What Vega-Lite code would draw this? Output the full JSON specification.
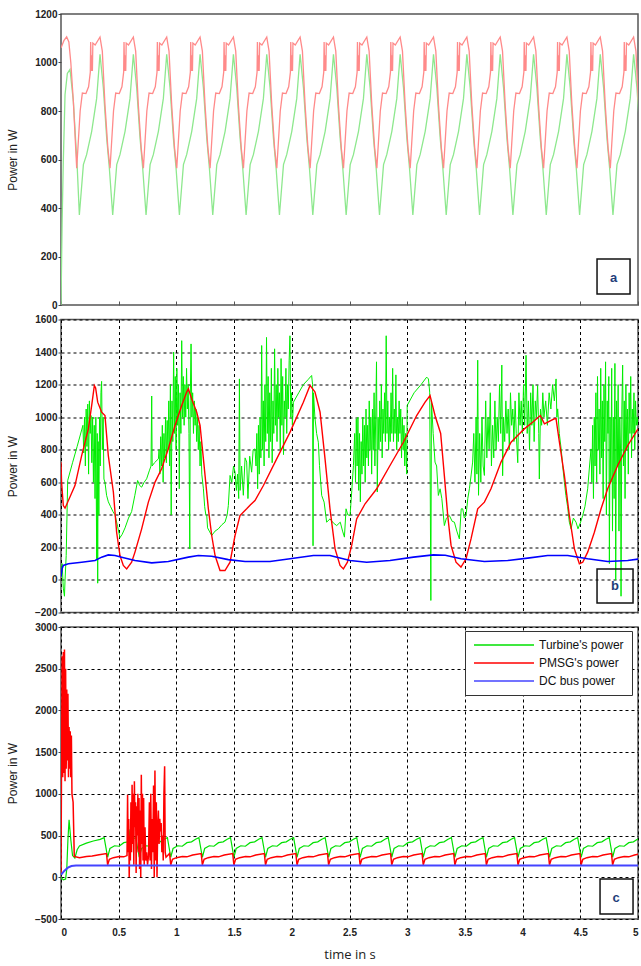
{
"$schema":"https://vega.github.io/schema/vega-lite/v6.json",
"padding":{"left":5,"top":8,"right":3,"bottom":5},
"bounds":"flush",
"spacing":14.5,
"config":{"view":{"stroke":"#555","strokeWidth":1.5},"font":"Liberation Sans",
"axis":{"domain":false,"labelOverlap":false,"labelFont":"Liberation Sans","labelFontSize":10,"labelFontWeight":"bold","labelColor":"#222","tickColor":"#444","tickSize":3,"labelPadding":1,"titleFont":"Liberation Sans","titleFontSize":12,"titleFontWeight":"normal","titleColor":"#222","gridColor":"#000","gridDash":[3,3],"gridOpacity":1,"gridWidth":1},
"axisY":{"titlePadding":15,"format":"d"}},
"resolve":{"scale":{"color":"independent"},"legend":{"color":"independent"}},
"datasets":{
"a":[
{"s":"T","t":0,"v":0},{"s":"T","t":0.01,"v":350},{"s":"T","t":0.02,"v":592},{"s":"T","t":0.035,"v":868},{"s":"T","t":0.055,"v":955},{"s":"T","t":0.078,"v":972},{"s":"T","t":0.107,"v":840},{"s":"T","t":0.141,"v":564},
{"s":"T","t":0.159,"v":371},{"s":"T","t":0.194,"v":579},{"s":"T","t":0.222,"v":620},{"s":"T","t":0.266,"v":716},{"s":"T","t":0.309,"v":852},{"s":"T","t":0.338,"v":1034},{"s":"T","t":0.367,"v":895},{"s":"T","t":0.396,"v":688},{"s":"T","t":0.419,"v":564},
{"s":"T","t":0.448,"v":371},{"s":"T","t":0.483,"v":579},{"s":"T","t":0.511,"v":620},{"s":"T","t":0.555,"v":716},{"s":"T","t":0.598,"v":852},{"s":"T","t":0.627,"v":1034},{"s":"T","t":0.656,"v":895},{"s":"T","t":0.685,"v":688},{"s":"T","t":0.708,"v":564},
{"s":"T","t":0.737,"v":371},{"s":"T","t":0.772,"v":579},{"s":"T","t":0.8,"v":620},{"s":"T","t":0.844,"v":716},{"s":"T","t":0.887,"v":852},{"s":"T","t":0.916,"v":1034},{"s":"T","t":0.945,"v":895},{"s":"T","t":0.974,"v":688},{"s":"T","t":0.997,"v":564},
{"s":"T","t":1.026,"v":371},{"s":"T","t":1.061,"v":579},{"s":"T","t":1.089,"v":620},{"s":"T","t":1.133,"v":716},{"s":"T","t":1.176,"v":852},{"s":"T","t":1.205,"v":1034},{"s":"T","t":1.234,"v":895},{"s":"T","t":1.263,"v":688},{"s":"T","t":1.286,"v":564},
{"s":"T","t":1.315,"v":371},{"s":"T","t":1.35,"v":579},{"s":"T","t":1.378,"v":620},{"s":"T","t":1.422,"v":716},{"s":"T","t":1.465,"v":852},{"s":"T","t":1.494,"v":1034},{"s":"T","t":1.523,"v":895},{"s":"T","t":1.552,"v":688},{"s":"T","t":1.575,"v":564},
{"s":"T","t":1.604,"v":371},{"s":"T","t":1.639,"v":579},{"s":"T","t":1.667,"v":620},{"s":"T","t":1.711,"v":716},{"s":"T","t":1.754,"v":852},{"s":"T","t":1.783,"v":1034},{"s":"T","t":1.812,"v":895},{"s":"T","t":1.841,"v":688},{"s":"T","t":1.864,"v":564},
{"s":"T","t":1.893,"v":371},{"s":"T","t":1.928,"v":579},{"s":"T","t":1.956,"v":620},{"s":"T","t":2.0,"v":716},{"s":"T","t":2.043,"v":852},{"s":"T","t":2.072,"v":1034},{"s":"T","t":2.101,"v":895},{"s":"T","t":2.13,"v":688},{"s":"T","t":2.153,"v":564},
{"s":"T","t":2.182,"v":371},{"s":"T","t":2.217,"v":579},{"s":"T","t":2.245,"v":620},{"s":"T","t":2.289,"v":716},{"s":"T","t":2.332,"v":852},{"s":"T","t":2.361,"v":1034},{"s":"T","t":2.39,"v":895},{"s":"T","t":2.419,"v":688},{"s":"T","t":2.442,"v":564},
{"s":"T","t":2.471,"v":371},{"s":"T","t":2.506,"v":579},{"s":"T","t":2.534,"v":620},{"s":"T","t":2.578,"v":716},{"s":"T","t":2.621,"v":852},{"s":"T","t":2.65,"v":1034},{"s":"T","t":2.679,"v":895},{"s":"T","t":2.708,"v":688},{"s":"T","t":2.731,"v":564},
{"s":"T","t":2.76,"v":371},{"s":"T","t":2.795,"v":579},{"s":"T","t":2.823,"v":620},{"s":"T","t":2.867,"v":716},{"s":"T","t":2.91,"v":852},{"s":"T","t":2.939,"v":1034},{"s":"T","t":2.968,"v":895},{"s":"T","t":2.997,"v":688},{"s":"T","t":3.02,"v":564},
{"s":"T","t":3.049,"v":371},{"s":"T","t":3.084,"v":579},{"s":"T","t":3.112,"v":620},{"s":"T","t":3.156,"v":716},{"s":"T","t":3.199,"v":852},{"s":"T","t":3.228,"v":1034},{"s":"T","t":3.257,"v":895},{"s":"T","t":3.286,"v":688},{"s":"T","t":3.309,"v":564},
{"s":"T","t":3.338,"v":371},{"s":"T","t":3.373,"v":579},{"s":"T","t":3.401,"v":620},{"s":"T","t":3.445,"v":716},{"s":"T","t":3.488,"v":852},{"s":"T","t":3.517,"v":1034},{"s":"T","t":3.546,"v":895},{"s":"T","t":3.575,"v":688},{"s":"T","t":3.598,"v":564},
{"s":"T","t":3.627,"v":371},{"s":"T","t":3.662,"v":579},{"s":"T","t":3.69,"v":620},{"s":"T","t":3.734,"v":716},{"s":"T","t":3.777,"v":852},{"s":"T","t":3.806,"v":1034},{"s":"T","t":3.835,"v":895},{"s":"T","t":3.864,"v":688},{"s":"T","t":3.887,"v":564},
{"s":"T","t":3.916,"v":371},{"s":"T","t":3.951,"v":579},{"s":"T","t":3.979,"v":620},{"s":"T","t":4.023,"v":716},{"s":"T","t":4.066,"v":852},{"s":"T","t":4.095,"v":1034},{"s":"T","t":4.124,"v":895},{"s":"T","t":4.153,"v":688},{"s":"T","t":4.176,"v":564},
{"s":"T","t":4.205,"v":371},{"s":"T","t":4.24,"v":579},{"s":"T","t":4.268,"v":620},{"s":"T","t":4.312,"v":716},{"s":"T","t":4.355,"v":852},{"s":"T","t":4.384,"v":1034},{"s":"T","t":4.413,"v":895},{"s":"T","t":4.442,"v":688},{"s":"T","t":4.465,"v":564},
{"s":"T","t":4.494,"v":371},{"s":"T","t":4.529,"v":579},{"s":"T","t":4.557,"v":620},{"s":"T","t":4.601,"v":716},{"s":"T","t":4.644,"v":852},{"s":"T","t":4.673,"v":1034},{"s":"T","t":4.702,"v":895},{"s":"T","t":4.731,"v":688},{"s":"T","t":4.754,"v":564},
{"s":"T","t":4.783,"v":371},{"s":"T","t":4.818,"v":579},{"s":"T","t":4.846,"v":620},{"s":"T","t":4.89,"v":716},{"s":"T","t":4.933,"v":852},{"s":"T","t":4.962,"v":1034},{"s":"T","t":4.991,"v":895},{"s":"T","t":5.02,"v":688},
{"s":"P","t":0,"v":1060},{"s":"P","t":0.025,"v":1090},{"s":"P","t":0.049,"v":1106},{"s":"P","t":0.068,"v":1085},{"s":"P","t":0.085,"v":1000},{"s":"P","t":0.107,"v":840},
{"s":"P","t":0.136,"v":564},{"s":"P","t":0.166,"v":800},{"s":"P","t":0.185,"v":874},{"s":"P","t":0.216,"v":872},{"s":"P","t":0.239,"v":900},{"s":"P","t":0.254,"v":960},{"s":"P","t":0.257,"v":1085},{"s":"P","t":0.262,"v":965},{"s":"P","t":0.267,"v":1030},{"s":"P","t":0.272,"v":965},{"s":"P","t":0.276,"v":1080},{"s":"P","t":0.296,"v":1072},{"s":"P","t":0.338,"v":1105},{"s":"P","t":0.358,"v":1047},{"s":"P","t":0.381,"v":826},{"s":"P","t":0.406,"v":647},
{"s":"P","t":0.425,"v":564},{"s":"P","t":0.455,"v":800},{"s":"P","t":0.474,"v":874},{"s":"P","t":0.505,"v":872},{"s":"P","t":0.528,"v":900},{"s":"P","t":0.543,"v":960},{"s":"P","t":0.546,"v":1085},{"s":"P","t":0.551,"v":965},{"s":"P","t":0.556,"v":1030},{"s":"P","t":0.561,"v":965},{"s":"P","t":0.565,"v":1080},{"s":"P","t":0.585,"v":1072},{"s":"P","t":0.627,"v":1105},{"s":"P","t":0.647,"v":1047},{"s":"P","t":0.67,"v":826},{"s":"P","t":0.695,"v":647},
{"s":"P","t":0.714,"v":564},{"s":"P","t":0.744,"v":800},{"s":"P","t":0.763,"v":874},{"s":"P","t":0.794,"v":872},{"s":"P","t":0.817,"v":900},{"s":"P","t":0.832,"v":960},{"s":"P","t":0.835,"v":1085},{"s":"P","t":0.84,"v":965},{"s":"P","t":0.845,"v":1030},{"s":"P","t":0.85,"v":965},{"s":"P","t":0.854,"v":1080},{"s":"P","t":0.874,"v":1072},{"s":"P","t":0.916,"v":1105},{"s":"P","t":0.936,"v":1047},{"s":"P","t":0.959,"v":826},{"s":"P","t":0.984,"v":647},
{"s":"P","t":1.003,"v":564},{"s":"P","t":1.033,"v":800},{"s":"P","t":1.052,"v":874},{"s":"P","t":1.083,"v":872},{"s":"P","t":1.106,"v":900},{"s":"P","t":1.121,"v":960},{"s":"P","t":1.124,"v":1085},{"s":"P","t":1.129,"v":965},{"s":"P","t":1.134,"v":1030},{"s":"P","t":1.139,"v":965},{"s":"P","t":1.143,"v":1080},{"s":"P","t":1.163,"v":1072},{"s":"P","t":1.205,"v":1105},{"s":"P","t":1.225,"v":1047},{"s":"P","t":1.248,"v":826},{"s":"P","t":1.273,"v":647},
{"s":"P","t":1.292,"v":564},{"s":"P","t":1.322,"v":800},{"s":"P","t":1.341,"v":874},{"s":"P","t":1.372,"v":872},{"s":"P","t":1.395,"v":900},{"s":"P","t":1.41,"v":960},{"s":"P","t":1.413,"v":1085},{"s":"P","t":1.418,"v":965},{"s":"P","t":1.423,"v":1030},{"s":"P","t":1.428,"v":965},{"s":"P","t":1.432,"v":1080},{"s":"P","t":1.452,"v":1072},{"s":"P","t":1.494,"v":1105},{"s":"P","t":1.514,"v":1047},{"s":"P","t":1.537,"v":826},{"s":"P","t":1.562,"v":647},
{"s":"P","t":1.581,"v":564},{"s":"P","t":1.611,"v":800},{"s":"P","t":1.63,"v":874},{"s":"P","t":1.661,"v":872},{"s":"P","t":1.684,"v":900},{"s":"P","t":1.699,"v":960},{"s":"P","t":1.702,"v":1085},{"s":"P","t":1.707,"v":965},{"s":"P","t":1.712,"v":1030},{"s":"P","t":1.717,"v":965},{"s":"P","t":1.721,"v":1080},{"s":"P","t":1.741,"v":1072},{"s":"P","t":1.783,"v":1105},{"s":"P","t":1.803,"v":1047},{"s":"P","t":1.826,"v":826},{"s":"P","t":1.851,"v":647},
{"s":"P","t":1.87,"v":564},{"s":"P","t":1.9,"v":800},{"s":"P","t":1.919,"v":874},{"s":"P","t":1.95,"v":872},{"s":"P","t":1.973,"v":900},{"s":"P","t":1.988,"v":960},{"s":"P","t":1.991,"v":1085},{"s":"P","t":1.996,"v":965},{"s":"P","t":2.001,"v":1030},{"s":"P","t":2.006,"v":965},{"s":"P","t":2.01,"v":1080},{"s":"P","t":2.03,"v":1072},{"s":"P","t":2.072,"v":1105},{"s":"P","t":2.092,"v":1047},{"s":"P","t":2.115,"v":826},{"s":"P","t":2.14,"v":647},
{"s":"P","t":2.159,"v":564},{"s":"P","t":2.189,"v":800},{"s":"P","t":2.208,"v":874},{"s":"P","t":2.239,"v":872},{"s":"P","t":2.262,"v":900},{"s":"P","t":2.277,"v":960},{"s":"P","t":2.28,"v":1085},{"s":"P","t":2.285,"v":965},{"s":"P","t":2.29,"v":1030},{"s":"P","t":2.295,"v":965},{"s":"P","t":2.299,"v":1080},{"s":"P","t":2.319,"v":1072},{"s":"P","t":2.361,"v":1105},{"s":"P","t":2.381,"v":1047},{"s":"P","t":2.404,"v":826},{"s":"P","t":2.429,"v":647},
{"s":"P","t":2.448,"v":564},{"s":"P","t":2.478,"v":800},{"s":"P","t":2.497,"v":874},{"s":"P","t":2.528,"v":872},{"s":"P","t":2.551,"v":900},{"s":"P","t":2.566,"v":960},{"s":"P","t":2.569,"v":1085},{"s":"P","t":2.574,"v":965},{"s":"P","t":2.579,"v":1030},{"s":"P","t":2.584,"v":965},{"s":"P","t":2.588,"v":1080},{"s":"P","t":2.608,"v":1072},{"s":"P","t":2.65,"v":1105},{"s":"P","t":2.67,"v":1047},{"s":"P","t":2.693,"v":826},{"s":"P","t":2.718,"v":647},
{"s":"P","t":2.737,"v":564},{"s":"P","t":2.767,"v":800},{"s":"P","t":2.786,"v":874},{"s":"P","t":2.817,"v":872},{"s":"P","t":2.84,"v":900},{"s":"P","t":2.855,"v":960},{"s":"P","t":2.858,"v":1085},{"s":"P","t":2.863,"v":965},{"s":"P","t":2.868,"v":1030},{"s":"P","t":2.873,"v":965},{"s":"P","t":2.877,"v":1080},{"s":"P","t":2.897,"v":1072},{"s":"P","t":2.939,"v":1105},{"s":"P","t":2.959,"v":1047},{"s":"P","t":2.982,"v":826},{"s":"P","t":3.007,"v":647},
{"s":"P","t":3.026,"v":564},{"s":"P","t":3.056,"v":800},{"s":"P","t":3.075,"v":874},{"s":"P","t":3.106,"v":872},{"s":"P","t":3.129,"v":900},{"s":"P","t":3.144,"v":960},{"s":"P","t":3.147,"v":1085},{"s":"P","t":3.152,"v":965},{"s":"P","t":3.157,"v":1030},{"s":"P","t":3.162,"v":965},{"s":"P","t":3.166,"v":1080},{"s":"P","t":3.186,"v":1072},{"s":"P","t":3.228,"v":1105},{"s":"P","t":3.248,"v":1047},{"s":"P","t":3.271,"v":826},{"s":"P","t":3.296,"v":647},
{"s":"P","t":3.315,"v":564},{"s":"P","t":3.345,"v":800},{"s":"P","t":3.364,"v":874},{"s":"P","t":3.395,"v":872},{"s":"P","t":3.418,"v":900},{"s":"P","t":3.433,"v":960},{"s":"P","t":3.436,"v":1085},{"s":"P","t":3.441,"v":965},{"s":"P","t":3.446,"v":1030},{"s":"P","t":3.451,"v":965},{"s":"P","t":3.455,"v":1080},{"s":"P","t":3.475,"v":1072},{"s":"P","t":3.517,"v":1105},{"s":"P","t":3.537,"v":1047},{"s":"P","t":3.56,"v":826},{"s":"P","t":3.585,"v":647},
{"s":"P","t":3.604,"v":564},{"s":"P","t":3.634,"v":800},{"s":"P","t":3.653,"v":874},{"s":"P","t":3.684,"v":872},{"s":"P","t":3.707,"v":900},{"s":"P","t":3.722,"v":960},{"s":"P","t":3.725,"v":1085},{"s":"P","t":3.73,"v":965},{"s":"P","t":3.735,"v":1030},{"s":"P","t":3.74,"v":965},{"s":"P","t":3.744,"v":1080},{"s":"P","t":3.764,"v":1072},{"s":"P","t":3.806,"v":1105},{"s":"P","t":3.826,"v":1047},{"s":"P","t":3.849,"v":826},{"s":"P","t":3.874,"v":647},
{"s":"P","t":3.893,"v":564},{"s":"P","t":3.923,"v":800},{"s":"P","t":3.942,"v":874},{"s":"P","t":3.973,"v":872},{"s":"P","t":3.996,"v":900},{"s":"P","t":4.011,"v":960},{"s":"P","t":4.014,"v":1085},{"s":"P","t":4.019,"v":965},{"s":"P","t":4.024,"v":1030},{"s":"P","t":4.029,"v":965},{"s":"P","t":4.033,"v":1080},{"s":"P","t":4.053,"v":1072},{"s":"P","t":4.095,"v":1105},{"s":"P","t":4.115,"v":1047},{"s":"P","t":4.138,"v":826},{"s":"P","t":4.163,"v":647},
{"s":"P","t":4.182,"v":564},{"s":"P","t":4.212,"v":800},{"s":"P","t":4.231,"v":874},{"s":"P","t":4.262,"v":872},{"s":"P","t":4.285,"v":900},{"s":"P","t":4.3,"v":960},{"s":"P","t":4.303,"v":1085},{"s":"P","t":4.308,"v":965},{"s":"P","t":4.313,"v":1030},{"s":"P","t":4.318,"v":965},{"s":"P","t":4.322,"v":1080},{"s":"P","t":4.342,"v":1072},{"s":"P","t":4.384,"v":1105},{"s":"P","t":4.404,"v":1047},{"s":"P","t":4.427,"v":826},{"s":"P","t":4.452,"v":647},
{"s":"P","t":4.471,"v":564},{"s":"P","t":4.501,"v":800},{"s":"P","t":4.52,"v":874},{"s":"P","t":4.551,"v":872},{"s":"P","t":4.574,"v":900},{"s":"P","t":4.589,"v":960},{"s":"P","t":4.592,"v":1085},{"s":"P","t":4.597,"v":965},{"s":"P","t":4.602,"v":1030},{"s":"P","t":4.607,"v":965},{"s":"P","t":4.611,"v":1080},{"s":"P","t":4.631,"v":1072},{"s":"P","t":4.673,"v":1105},{"s":"P","t":4.693,"v":1047},{"s":"P","t":4.716,"v":826},{"s":"P","t":4.741,"v":647},
{"s":"P","t":4.76,"v":564},{"s":"P","t":4.79,"v":800},{"s":"P","t":4.809,"v":874},{"s":"P","t":4.84,"v":872},{"s":"P","t":4.863,"v":900},{"s":"P","t":4.878,"v":960},{"s":"P","t":4.881,"v":1085},{"s":"P","t":4.886,"v":965},{"s":"P","t":4.891,"v":1030},{"s":"P","t":4.896,"v":965},{"s":"P","t":4.9,"v":1080},{"s":"P","t":4.92,"v":1072},{"s":"P","t":4.962,"v":1105},{"s":"P","t":4.982,"v":1047},{"s":"P","t":5.005,"v":826},{"s":"P","t":5.03,"v":647}
],
"b":[
{"s":"T","t":0,"v":50},{"s":"T","t":0.01,"v":100},{"s":"T","t":0.02,"v":-50},{"s":"T","t":0.03,"v":-100},{"s":"T","t":0.035,"v":0},{"s":"T","t":0.045,"v":150},{"s":"T","t":0.058,"v":611},{"s":"T","t":0.1,"v":720},{"s":"T","t":0.14,"v":820},{"s":"T","t":0.19,"v":950},
{"s":"T","t":0.197,"v":780},{"s":"T","t":0.204,"v":1000},{"s":"T","t":0.211,"v":700},{"s":"T","t":0.218,"v":1050},{"s":"T","t":0.225,"v":820},{"s":"T","t":0.232,"v":1080},{"s":"T","t":0.239,"v":650},{"s":"T","t":0.246,"v":1100},{"s":"T","t":0.253,"v":900},{"s":"T","t":0.26,"v":1010},{"s":"T","t":0.267,"v":720},{"s":"T","t":0.274,"v":1000},{"s":"T","t":0.281,"v":600},{"s":"T","t":0.288,"v":950},{"s":"T","t":0.295,"v":500},{"s":"T","t":0.302,"v":1000},{"s":"T","t":0.309,"v":130},{"s":"T","t":0.314,"v":900},{"s":"T","t":0.318,"v":-20},{"s":"T","t":0.322,"v":850},{"s":"T","t":0.328,"v":400},{"s":"T","t":0.334,"v":1000},{"s":"T","t":0.34,"v":700},{"s":"T","t":0.346,"v":1150},{"s":"T","t":0.352,"v":1220},{"s":"T","t":0.358,"v":800},{"s":"T","t":0.365,"v":1000},{"s":"T","t":0.372,"v":620},
{"s":"T","t":0.381,"v":600},{"s":"T","t":0.395,"v":520},{"s":"T","t":0.41,"v":480},{"s":"T","t":0.43,"v":450},{"s":"T","t":0.45,"v":420},{"s":"T","t":0.468,"v":400},{"s":"T","t":0.49,"v":330},{"s":"T","t":0.511,"v":260},{"s":"T","t":0.53,"v":280},{"s":"T","t":0.555,"v":320},{"s":"T","t":0.585,"v":380},{"s":"T","t":0.612,"v":420},{"s":"T","t":0.64,"v":520},{"s":"T","t":0.664,"v":611},{"s":"T","t":0.682,"v":580},{"s":"T","t":0.699,"v":570},{"s":"T","t":0.72,"v":600},{"s":"T","t":0.742,"v":621},{"s":"T","t":0.765,"v":670},{"s":"T","t":0.78,"v":700},{"s":"T","t":0.786,"v":1130},{"s":"T","t":0.79,"v":700},{"s":"T","t":0.81,"v":720},{"s":"T","t":0.844,"v":744},
{"s":"T","t":0.85,"v":800},{"s":"T","t":0.857,"v":650},{"s":"T","t":0.864,"v":880},{"s":"T","t":0.871,"v":700},{"s":"T","t":0.878,"v":950},{"s":"T","t":0.885,"v":600},{"s":"T","t":0.892,"v":900},{"s":"T","t":0.899,"v":750},{"s":"T","t":0.906,"v":1000},{"s":"T","t":0.913,"v":720},{"s":"T","t":0.92,"v":980},{"s":"T","t":0.927,"v":800},{"s":"T","t":0.934,"v":1100},{"s":"T","t":0.941,"v":700},{"s":"T","t":0.948,"v":1200},{"s":"T","t":0.955,"v":400},{"s":"T","t":0.962,"v":1100},{"s":"T","t":0.969,"v":850},{"s":"T","t":0.976,"v":1400},{"s":"T","t":0.983,"v":900},{"s":"T","t":0.99,"v":1250},{"s":"T","t":0.997,"v":800},{"s":"T","t":1.004,"v":1300},{"s":"T","t":1.011,"v":950},{"s":"T","t":1.018,"v":1200},{"s":"T","t":1.025,"v":560},{"s":"T","t":1.032,"v":1150},{"s":"T","t":1.039,"v":900},{"s":"T","t":1.046,"v":1470},{"s":"T","t":1.053,"v":1000},{"s":"T","t":1.06,"v":1250},{"s":"T","t":1.067,"v":950},{"s":"T","t":1.074,"v":1200},{"s":"T","t":1.081,"v":1000},{"s":"T","t":1.088,"v":1300},{"s":"T","t":1.095,"v":1050},{"s":"T","t":1.102,"v":1200},{"s":"T","t":1.109,"v":900},{"s":"T","t":1.116,"v":190},{"s":"T","t":1.12,"v":1100},{"s":"T","t":1.127,"v":1450},{"s":"T","t":1.134,"v":1000},{"s":"T","t":1.141,"v":1150},{"s":"T","t":1.148,"v":900},{"s":"T","t":1.155,"v":1100},{"s":"T","t":1.162,"v":950},{"s":"T","t":1.169,"v":1050},{"s":"T","t":1.176,"v":850},{"s":"T","t":1.183,"v":1000},{"s":"T","t":1.19,"v":800},{"s":"T","t":1.197,"v":950},{"s":"T","t":1.205,"v":700},{"s":"T","t":1.212,"v":850},
{"s":"T","t":1.22,"v":650},{"s":"T","t":1.234,"v":560},{"s":"T","t":1.245,"v":450},{"s":"T","t":1.255,"v":400},{"s":"T","t":1.263,"v":396},{"s":"T","t":1.27,"v":320},{"s":"T","t":1.285,"v":300},{"s":"T","t":1.306,"v":273},{"s":"T","t":1.335,"v":300},{"s":"T","t":1.364,"v":314},{"s":"T","t":1.395,"v":340},{"s":"T","t":1.421,"v":355},{"s":"T","t":1.44,"v":400},{"s":"T","t":1.45,"v":457},{"s":"T","t":1.465,"v":642},{"s":"T","t":1.48,"v":600},{"s":"T","t":1.495,"v":700},{"s":"T","t":1.508,"v":662},{"s":"T","t":1.52,"v":550},{"s":"T","t":1.53,"v":650},{"s":"T","t":1.54,"v":500},{"s":"T","t":1.546,"v":1235},{"s":"T","t":1.552,"v":550},{"s":"T","t":1.565,"v":700},{"s":"T","t":1.58,"v":520},{"s":"T","t":1.595,"v":750},{"s":"T","t":1.609,"v":724},{"s":"T","t":1.62,"v":500},{"s":"T","t":1.635,"v":760},{"s":"T","t":1.652,"v":662},{"s":"T","t":1.665,"v":800},{"s":"T","t":1.681,"v":805},
{"s":"T","t":1.69,"v":700},{"s":"T","t":1.697,"v":900},{"s":"T","t":1.704,"v":560},{"s":"T","t":1.711,"v":950},{"s":"T","t":1.718,"v":650},{"s":"T","t":1.725,"v":1000},{"s":"T","t":1.732,"v":750},{"s":"T","t":1.739,"v":1440},{"s":"T","t":1.746,"v":800},{"s":"T","t":1.753,"v":1100},{"s":"T","t":1.76,"v":700},{"s":"T","t":1.767,"v":1200},{"s":"T","t":1.774,"v":850},{"s":"T","t":1.781,"v":1490},{"s":"T","t":1.788,"v":900},{"s":"T","t":1.795,"v":1250},{"s":"T","t":1.802,"v":750},{"s":"T","t":1.809,"v":1150},{"s":"T","t":1.816,"v":850},{"s":"T","t":1.823,"v":1300},{"s":"T","t":1.83,"v":720},{"s":"T","t":1.837,"v":1100},{"s":"T","t":1.844,"v":900},{"s":"T","t":1.851,"v":1420},{"s":"T","t":1.858,"v":950},{"s":"T","t":1.865,"v":1200},{"s":"T","t":1.872,"v":850},{"s":"T","t":1.879,"v":1300},{"s":"T","t":1.886,"v":1000},{"s":"T","t":1.893,"v":1150},{"s":"T","t":1.9,"v":800},{"s":"T","t":1.907,"v":1360},{"s":"T","t":1.914,"v":950},{"s":"T","t":1.921,"v":1250},{"s":"T","t":1.928,"v":770},{"s":"T","t":1.935,"v":1100},{"s":"T","t":1.942,"v":1000},{"s":"T","t":1.949,"v":1300},{"s":"T","t":1.956,"v":900},{"s":"T","t":1.963,"v":1200},{"s":"T","t":1.97,"v":1050},{"s":"T","t":1.977,"v":1350},{"s":"T","t":1.984,"v":1500},{"s":"T","t":1.991,"v":1000},{"s":"T","t":1.998,"v":1150},{"s":"T","t":2.005,"v":950},{"s":"T","t":2.014,"v":1092},
{"s":"T","t":2.06,"v":1150},{"s":"T","t":2.1,"v":1200},{"s":"T","t":2.14,"v":1230},{"s":"T","t":2.172,"v":1256},{"s":"T","t":2.18,"v":1200},{"s":"T","t":2.184,"v":210},{"s":"T","t":2.188,"v":1150},{"s":"T","t":2.2,"v":1000},{"s":"T","t":2.215,"v":900},{"s":"T","t":2.23,"v":846},{"s":"T","t":2.24,"v":703},{"s":"T","t":2.259,"v":519},{"s":"T","t":2.28,"v":478},{"s":"T","t":2.302,"v":355},{"s":"T","t":2.331,"v":375},{"s":"T","t":2.36,"v":350},{"s":"T","t":2.389,"v":334},{"s":"T","t":2.42,"v":355},{"s":"T","t":2.44,"v":300},{"s":"T","t":2.456,"v":263},{"s":"T","t":2.47,"v":437},{"s":"T","t":2.485,"v":400},{"s":"T","t":2.505,"v":396},{"s":"T","t":2.52,"v":550},{"s":"T","t":2.534,"v":703},
{"s":"T","t":2.545,"v":900},{"s":"T","t":2.552,"v":600},{"s":"T","t":2.559,"v":990},{"s":"T","t":2.566,"v":700},{"s":"T","t":2.573,"v":1000},{"s":"T","t":2.58,"v":550},{"s":"T","t":2.587,"v":900},{"s":"T","t":2.594,"v":480},{"s":"T","t":2.601,"v":850},{"s":"T","t":2.608,"v":650},{"s":"T","t":2.615,"v":1000},{"s":"T","t":2.622,"v":700},{"s":"T","t":2.629,"v":950},{"s":"T","t":2.636,"v":600},{"s":"T","t":2.643,"v":1050},{"s":"T","t":2.65,"v":750},{"s":"T","t":2.657,"v":950},{"s":"T","t":2.664,"v":700},{"s":"T","t":2.671,"v":1100},{"s":"T","t":2.678,"v":800},{"s":"T","t":2.685,"v":1000},{"s":"T","t":2.692,"v":650},{"s":"T","t":2.699,"v":1050},{"s":"T","t":2.706,"v":800},{"s":"T","t":2.713,"v":1150},{"s":"T","t":2.72,"v":700},{"s":"T","t":2.727,"v":1000},{"s":"T","t":2.734,"v":1340},{"s":"T","t":2.741,"v":540},{"s":"T","t":2.748,"v":1000},{"s":"T","t":2.755,"v":800},{"s":"T","t":2.762,"v":1100},{"s":"T","t":2.769,"v":850},{"s":"T","t":2.776,"v":1200},{"s":"T","t":2.783,"v":750},{"s":"T","t":2.79,"v":1050},{"s":"T","t":2.797,"v":900},{"s":"T","t":2.804,"v":1150},{"s":"T","t":2.811,"v":850},{"s":"T","t":2.818,"v":1500},{"s":"T","t":2.825,"v":900},{"s":"T","t":2.832,"v":1100},{"s":"T","t":2.839,"v":800},{"s":"T","t":2.846,"v":1000},{"s":"T","t":2.853,"v":850},{"s":"T","t":2.86,"v":1150},{"s":"T","t":2.867,"v":900},{"s":"T","t":2.874,"v":1300},{"s":"T","t":2.881,"v":850},{"s":"T","t":2.888,"v":1050},{"s":"T","t":2.895,"v":900},{"s":"T","t":2.902,"v":1260},{"s":"T","t":2.909,"v":800},{"s":"T","t":2.916,"v":1000},{"s":"T","t":2.923,"v":850},{"s":"T","t":2.93,"v":1100},{"s":"T","t":2.937,"v":900},{"s":"T","t":2.944,"v":1050},{"s":"T","t":2.951,"v":750},{"s":"T","t":2.958,"v":1000},{"s":"T","t":2.965,"v":800},{"s":"T","t":2.972,"v":950},{"s":"T","t":2.979,"v":700},{"s":"T","t":2.986,"v":900},{"s":"T","t":2.996,"v":650},
{"s":"T","t":3.0,"v":1072},{"s":"T","t":3.06,"v":1150},{"s":"T","t":3.12,"v":1200},{"s":"T","t":3.169,"v":1246},{"s":"T","t":3.184,"v":1235},{"s":"T","t":3.195,"v":1154},{"s":"T","t":3.205,"v":-126},{"s":"T","t":3.21,"v":1100},{"s":"T","t":3.225,"v":900},{"s":"T","t":3.241,"v":724},{"s":"T","t":3.255,"v":700},{"s":"T","t":3.27,"v":519},{"s":"T","t":3.285,"v":560},{"s":"T","t":3.3,"v":500},{"s":"T","t":3.322,"v":334},{"s":"T","t":3.34,"v":380},{"s":"T","t":3.365,"v":396},{"s":"T","t":3.39,"v":360},{"s":"T","t":3.409,"v":355},{"s":"T","t":3.43,"v":300},{"s":"T","t":3.452,"v":252},{"s":"T","t":3.468,"v":437},{"s":"T","t":3.481,"v":437},{"s":"T","t":3.495,"v":380},{"s":"T","t":3.51,"v":396},{"s":"T","t":3.525,"v":500},{"s":"T","t":3.539,"v":560},{"s":"T","t":3.555,"v":650},{"s":"T","t":3.567,"v":724},
{"s":"T","t":3.577,"v":900},{"s":"T","t":3.587,"v":600},{"s":"T","t":3.597,"v":1000},{"s":"T","t":3.604,"v":650},{"s":"T","t":3.611,"v":1350},{"s":"T","t":3.618,"v":520},{"s":"T","t":3.628,"v":900},{"s":"T","t":3.638,"v":600},{"s":"T","t":3.648,"v":1000},{"s":"T","t":3.658,"v":700},{"s":"T","t":3.669,"v":642},{"s":"T","t":3.68,"v":1100},{"s":"T","t":3.69,"v":750},{"s":"T","t":3.7,"v":1000},{"s":"T","t":3.71,"v":805},{"s":"T","t":3.72,"v":1150},{"s":"T","t":3.73,"v":700},{"s":"T","t":3.74,"v":950},{"s":"T","t":3.75,"v":750},{"s":"T","t":3.76,"v":1100},{"s":"T","t":3.77,"v":800},{"s":"T","t":3.78,"v":1000},{"s":"T","t":3.79,"v":850},{"s":"T","t":3.8,"v":1200},{"s":"T","t":3.81,"v":900},{"s":"T","t":3.82,"v":1320},{"s":"T","t":3.827,"v":640},{"s":"T","t":3.835,"v":1000},{"s":"T","t":3.845,"v":850},{"s":"T","t":3.855,"v":1100},{"s":"T","t":3.865,"v":900},{"s":"T","t":3.875,"v":1050},{"s":"T","t":3.885,"v":800},{"s":"T","t":3.895,"v":1150},{"s":"T","t":3.905,"v":950},{"s":"T","t":3.915,"v":1050},{"s":"T","t":3.925,"v":850},{"s":"T","t":3.935,"v":1100},{"s":"T","t":3.945,"v":900},{"s":"T","t":3.958,"v":720},{"s":"T","t":3.968,"v":1150},{"s":"T","t":3.978,"v":950},{"s":"T","t":3.988,"v":1100},{"s":"T","t":3.998,"v":900},{"s":"T","t":4.008,"v":1200},{"s":"T","t":4.018,"v":950},{"s":"T","t":4.03,"v":1380},{"s":"T","t":4.04,"v":900},{"s":"T","t":4.05,"v":1100},{"s":"T","t":4.06,"v":800},{"s":"T","t":4.07,"v":1150},{"s":"T","t":4.08,"v":950},{"s":"T","t":4.09,"v":1200},{"s":"T","t":4.1,"v":850},{"s":"T","t":4.11,"v":1100},{"s":"T","t":4.12,"v":1000},{"s":"T","t":4.13,"v":1195},{"s":"T","t":4.14,"v":900},{"s":"T","t":4.145,"v":620},{"s":"T","t":4.155,"v":1050},{"s":"T","t":4.165,"v":950},{"s":"T","t":4.175,"v":1150},{"s":"T","t":4.185,"v":1000},{"s":"T","t":4.2,"v":1100},{"s":"T","t":4.215,"v":950},{"s":"T","t":4.23,"v":1150},{"s":"T","t":4.245,"v":1050},{"s":"T","t":4.26,"v":1200},{"s":"T","t":4.275,"v":1100},{"s":"T","t":4.29,"v":1235},{"s":"T","t":4.297,"v":1000},
{"s":"T","t":4.304,"v":1051},{"s":"T","t":4.318,"v":900},{"s":"T","t":4.335,"v":800},{"s":"T","t":4.347,"v":703},{"s":"T","t":4.362,"v":600},{"s":"T","t":4.375,"v":519},{"s":"T","t":4.39,"v":450},{"s":"T","t":4.405,"v":355},{"s":"T","t":4.42,"v":314},{"s":"T","t":4.44,"v":380},{"s":"T","t":4.463,"v":355},{"s":"T","t":4.48,"v":314},{"s":"T","t":4.5,"v":350},{"s":"T","t":4.521,"v":396},{"s":"T","t":4.54,"v":450},{"s":"T","t":4.564,"v":560},{"s":"T","t":4.58,"v":700},{"s":"T","t":4.593,"v":805},
{"s":"T","t":4.6,"v":600},{"s":"T","t":4.607,"v":950},{"s":"T","t":4.614,"v":500},{"s":"T","t":4.621,"v":1000},{"s":"T","t":4.628,"v":700},{"s":"T","t":4.635,"v":1150},{"s":"T","t":4.642,"v":600},{"s":"T","t":4.649,"v":1250},{"s":"T","t":4.656,"v":800},{"s":"T","t":4.663,"v":1050},{"s":"T","t":4.67,"v":650},{"s":"T","t":4.677,"v":1300},{"s":"T","t":4.684,"v":750},{"s":"T","t":4.691,"v":1100},{"s":"T","t":4.698,"v":500},{"s":"T","t":4.705,"v":1200},{"s":"T","t":4.712,"v":850},{"s":"T","t":4.719,"v":1340},{"s":"T","t":4.726,"v":400},{"s":"T","t":4.733,"v":1100},{"s":"T","t":4.74,"v":900},{"s":"T","t":4.747,"v":1250},{"s":"T","t":4.752,"v":100},{"s":"T","t":4.758,"v":1000},{"s":"T","t":4.765,"v":600},{"s":"T","t":4.772,"v":1300},{"s":"T","t":4.779,"v":300},{"s":"T","t":4.786,"v":1000},{"s":"T","t":4.793,"v":500},{"s":"T","t":4.8,"v":1330},{"s":"T","t":4.807,"v":0},{"s":"T","t":4.814,"v":1100},{"s":"T","t":4.821,"v":700},{"s":"T","t":4.828,"v":1200},{"s":"T","t":4.835,"v":300},{"s":"T","t":4.842,"v":1000},{"s":"T","t":4.849,"v":800},{"s":"T","t":4.853,"v":-100},{"s":"T","t":4.86,"v":1050},{"s":"T","t":4.867,"v":1320},{"s":"T","t":4.874,"v":700},{"s":"T","t":4.881,"v":1100},{"s":"T","t":4.888,"v":500},{"s":"T","t":4.895,"v":1200},{"s":"T","t":4.902,"v":800},{"s":"T","t":4.909,"v":1050},{"s":"T","t":4.916,"v":650},{"s":"T","t":4.923,"v":1150},{"s":"T","t":4.93,"v":900},{"s":"T","t":4.937,"v":1250},{"s":"T","t":4.944,"v":750},{"s":"T","t":4.951,"v":1050},{"s":"T","t":4.958,"v":900},{"s":"T","t":4.965,"v":1150},{"s":"T","t":4.972,"v":800},{"s":"T","t":4.979,"v":1100},{"s":"T","t":4.986,"v":950},{"s":"T","t":4.993,"v":1000},{"s":"T","t":5.0,"v":950},
{"s":"P","t":0,"v":723},{"s":"P","t":0.005,"v":600},{"s":"P","t":0.02,"v":457},{"s":"P","t":0.035,"v":441},{"s":"P","t":0.121,"v":580},{"s":"P","t":0.179,"v":764},{"s":"P","t":0.237,"v":928},{"s":"P","t":0.266,"v":1072},{"s":"P","t":0.289,"v":1195},{"s":"P","t":0.3,"v":1180},{"s":"P","t":0.318,"v":1092},{"s":"P","t":0.352,"v":1031},{"s":"P","t":0.381,"v":1010},{"s":"P","t":0.41,"v":764},{"s":"P","t":0.454,"v":539},{"s":"P","t":0.482,"v":293},{"s":"P","t":0.511,"v":150},{"s":"P","t":0.54,"v":89},{"s":"P","t":0.569,"v":68},{"s":"P","t":0.612,"v":109},{"s":"P","t":0.641,"v":171},{"s":"P","t":0.699,"v":314},{"s":"P","t":0.757,"v":478},{"s":"P","t":0.815,"v":601},{"s":"P","t":0.872,"v":683},{"s":"P","t":0.93,"v":806},{"s":"P","t":0.988,"v":949},{"s":"P","t":1.046,"v":1072},{"s":"P","t":1.089,"v":1154},{"s":"P","t":1.104,"v":1174},{"s":"P","t":1.132,"v":1113},{"s":"P","t":1.176,"v":1031},{"s":"P","t":1.205,"v":949},{"s":"P","t":1.234,"v":744},{"s":"P","t":1.277,"v":437},{"s":"P","t":1.306,"v":273},{"s":"P","t":1.335,"v":150},{"s":"P","t":1.378,"v":58},{"s":"P","t":1.421,"v":58},{"s":"P","t":1.465,"v":109},{"s":"P","t":1.508,"v":273},{"s":"P","t":1.551,"v":396},{"s":"P","t":1.609,"v":437},{"s":"P","t":1.64,"v":460},{"s":"P","t":1.681,"v":488},{"s":"P","t":1.754,"v":580},{"s":"P","t":1.869,"v":744},{"s":"P","t":1.985,"v":908},{"s":"P","t":2.1,"v":1092},{"s":"P","t":2.158,"v":1195},{"s":"P","t":2.201,"v":1154},{"s":"P","t":2.245,"v":1031},{"s":"P","t":2.288,"v":744},{"s":"P","t":2.331,"v":437},{"s":"P","t":2.375,"v":191},{"s":"P","t":2.418,"v":89},{"s":"P","t":2.447,"v":68},{"s":"P","t":2.482,"v":109},{"s":"P","t":2.519,"v":212},{"s":"P","t":2.562,"v":375},{"s":"P","t":2.635,"v":468},{"s":"P","t":2.736,"v":560},{"s":"P","t":2.851,"v":703},{"s":"P","t":2.967,"v":846},{"s":"P","t":3.082,"v":1010},{"s":"P","t":3.155,"v":1092},{"s":"P","t":3.198,"v":1133},{"s":"P","t":3.241,"v":1010},{"s":"P","t":3.29,"v":900},{"s":"P","t":3.322,"v":641},{"s":"P","t":3.351,"v":396},{"s":"P","t":3.38,"v":212},{"s":"P","t":3.423,"v":109},{"s":"P","t":3.466,"v":79},{"s":"P","t":3.51,"v":130},{"s":"P","t":3.553,"v":252},{"s":"P","t":3.611,"v":437},{"s":"P","t":3.669,"v":478},{"s":"P","t":3.726,"v":560},{"s":"P","t":3.813,"v":724},{"s":"P","t":3.9,"v":846},{"s":"P","t":3.957,"v":887},{"s":"P","t":4.015,"v":928},{"s":"P","t":4.087,"v":969},{"s":"P","t":4.154,"v":1010},{"s":"P","t":4.189,"v":959},{"s":"P","t":4.275,"v":990},{"s":"P","t":4.29,"v":990},{"s":"P","t":4.319,"v":846},{"s":"P","t":4.362,"v":642},{"s":"P","t":4.405,"v":396},{"s":"P","t":4.449,"v":191},{"s":"P","t":4.492,"v":99},{"s":"P","t":4.521,"v":109},{"s":"P","t":4.564,"v":171},{"s":"P","t":4.622,"v":293},{"s":"P","t":4.68,"v":437},{"s":"P","t":4.737,"v":560},{"s":"P","t":4.824,"v":703},{"s":"P","t":4.911,"v":826},{"s":"P","t":5.0,"v":928},
{"s":"D","t":0,"v":20},{"s":"D","t":0.01,"v":70},{"s":"D","t":0.02,"v":89},{"s":"D","t":0.064,"v":99},{"s":"D","t":0.179,"v":109},{"s":"D","t":0.295,"v":119},{"s":"D","t":0.352,"v":140},{"s":"D","t":0.41,"v":154},{"s":"D","t":0.468,"v":150},{"s":"D","t":0.526,"v":140},{"s":"D","t":0.641,"v":119},{"s":"D","t":0.786,"v":105},{"s":"D","t":0.93,"v":113},{"s":"D","t":1.104,"v":140},{"s":"D","t":1.19,"v":150},{"s":"D","t":1.306,"v":146},{"s":"D","t":1.45,"v":125},{"s":"D","t":1.595,"v":113},{"s":"D","t":1.811,"v":113},{"s":"D","t":1.985,"v":130},{"s":"D","t":2.187,"v":150},{"s":"D","t":2.331,"v":150},{"s":"D","t":2.505,"v":119},{"s":"D","t":2.649,"v":109},{"s":"D","t":2.851,"v":119},{"s":"D","t":3.054,"v":140},{"s":"D","t":3.227,"v":154},{"s":"D","t":3.33,"v":152},{"s":"D","t":3.466,"v":130},{"s":"D","t":3.669,"v":113},{"s":"D","t":3.871,"v":119},{"s":"D","t":4.044,"v":134},{"s":"D","t":4.217,"v":150},{"s":"D","t":4.391,"v":150},{"s":"D","t":4.564,"v":130},{"s":"D","t":4.737,"v":113},{"s":"D","t":4.911,"v":119},{"s":"D","t":5.0,"v":128}
],
"c":[
{"s":"T","t":0,"v":0},{"s":"T","t":0.02,"v":-30},{"s":"T","t":0.04,"v":-20},{"s":"T","t":0.05,"v":100},{"s":"T","t":0.06,"v":450},{"s":"T","t":0.07,"v":690},{"s":"T","t":0.085,"v":450},{"s":"T","t":0.1,"v":260},{"s":"T","t":0.12,"v":230},{"s":"T","t":0.14,"v":330},{"s":"T","t":0.16,"v":375},{"s":"T","t":0.22,"v":410},{"s":"T","t":0.28,"v":435},{"s":"T","t":0.34,"v":455},{"s":"T","t":0.374,"v":475},
{"s":"T","t":0.404,"v":240},{"s":"T","t":0.424,"v":345},{"s":"T","t":0.464,"v":378},{"s":"T","t":0.504,"v":372},{"s":"T","t":0.544,"v":415},{"s":"T","t":0.584,"v":425},{"s":"T","t":0.598,"v":575},{"s":"T","t":0.605,"v":440},{"s":"T","t":0.619,"v":455},{"s":"T","t":0.648,"v":475},
{"s":"T","t":0.678,"v":240},{"s":"T","t":0.698,"v":345},{"s":"T","t":0.738,"v":378},{"s":"T","t":0.778,"v":372},{"s":"T","t":0.818,"v":415},{"s":"T","t":0.858,"v":425},{"s":"T","t":0.893,"v":455},{"s":"T","t":0.922,"v":475},
{"s":"T","t":0.951,"v":240},{"s":"T","t":0.971,"v":345},{"s":"T","t":1.011,"v":378},{"s":"T","t":1.051,"v":372},{"s":"T","t":1.091,"v":415},{"s":"T","t":1.131,"v":425},{"s":"T","t":1.166,"v":455},{"s":"T","t":1.195,"v":475},
{"s":"T","t":1.225,"v":240},{"s":"T","t":1.245,"v":345},{"s":"T","t":1.285,"v":378},{"s":"T","t":1.325,"v":372},{"s":"T","t":1.365,"v":415},{"s":"T","t":1.405,"v":425},{"s":"T","t":1.44,"v":455},{"s":"T","t":1.469,"v":475},
{"s":"T","t":1.498,"v":240},{"s":"T","t":1.518,"v":345},{"s":"T","t":1.558,"v":378},{"s":"T","t":1.598,"v":372},{"s":"T","t":1.638,"v":415},{"s":"T","t":1.678,"v":425},{"s":"T","t":1.713,"v":455},{"s":"T","t":1.742,"v":475},
{"s":"T","t":1.772,"v":240},{"s":"T","t":1.792,"v":345},{"s":"T","t":1.832,"v":378},{"s":"T","t":1.872,"v":372},{"s":"T","t":1.912,"v":415},{"s":"T","t":1.952,"v":425},{"s":"T","t":1.987,"v":455},{"s":"T","t":2.016,"v":475},
{"s":"T","t":2.045,"v":240},{"s":"T","t":2.065,"v":345},{"s":"T","t":2.105,"v":378},{"s":"T","t":2.145,"v":372},{"s":"T","t":2.185,"v":415},{"s":"T","t":2.225,"v":425},{"s":"T","t":2.26,"v":455},{"s":"T","t":2.289,"v":475},
{"s":"T","t":2.319,"v":240},{"s":"T","t":2.339,"v":345},{"s":"T","t":2.379,"v":378},{"s":"T","t":2.419,"v":372},{"s":"T","t":2.459,"v":415},{"s":"T","t":2.499,"v":425},{"s":"T","t":2.534,"v":455},{"s":"T","t":2.563,"v":475},
{"s":"T","t":2.592,"v":240},{"s":"T","t":2.612,"v":345},{"s":"T","t":2.652,"v":378},{"s":"T","t":2.692,"v":372},{"s":"T","t":2.732,"v":415},{"s":"T","t":2.772,"v":425},{"s":"T","t":2.807,"v":455},{"s":"T","t":2.836,"v":475},
{"s":"T","t":2.866,"v":240},{"s":"T","t":2.886,"v":345},{"s":"T","t":2.926,"v":378},{"s":"T","t":2.966,"v":372},{"s":"T","t":3.006,"v":415},{"s":"T","t":3.046,"v":425},{"s":"T","t":3.081,"v":455},{"s":"T","t":3.11,"v":475},
{"s":"T","t":3.139,"v":240},{"s":"T","t":3.159,"v":345},{"s":"T","t":3.199,"v":378},{"s":"T","t":3.239,"v":372},{"s":"T","t":3.279,"v":415},{"s":"T","t":3.319,"v":425},{"s":"T","t":3.354,"v":455},{"s":"T","t":3.383,"v":475},
{"s":"T","t":3.413,"v":240},{"s":"T","t":3.433,"v":345},{"s":"T","t":3.473,"v":378},{"s":"T","t":3.513,"v":372},{"s":"T","t":3.553,"v":415},{"s":"T","t":3.593,"v":425},{"s":"T","t":3.628,"v":455},{"s":"T","t":3.657,"v":475},
{"s":"T","t":3.686,"v":240},{"s":"T","t":3.706,"v":345},{"s":"T","t":3.746,"v":378},{"s":"T","t":3.786,"v":372},{"s":"T","t":3.826,"v":415},{"s":"T","t":3.866,"v":425},{"s":"T","t":3.901,"v":455},{"s":"T","t":3.93,"v":475},
{"s":"T","t":3.96,"v":240},{"s":"T","t":3.98,"v":345},{"s":"T","t":4.02,"v":378},{"s":"T","t":4.06,"v":372},{"s":"T","t":4.1,"v":415},{"s":"T","t":4.14,"v":425},{"s":"T","t":4.175,"v":455},{"s":"T","t":4.204,"v":475},
{"s":"T","t":4.233,"v":240},{"s":"T","t":4.253,"v":345},{"s":"T","t":4.293,"v":378},{"s":"T","t":4.333,"v":372},{"s":"T","t":4.373,"v":415},{"s":"T","t":4.413,"v":425},{"s":"T","t":4.448,"v":455},{"s":"T","t":4.477,"v":475},
{"s":"T","t":4.507,"v":240},{"s":"T","t":4.527,"v":345},{"s":"T","t":4.567,"v":378},{"s":"T","t":4.607,"v":372},{"s":"T","t":4.647,"v":415},{"s":"T","t":4.687,"v":425},{"s":"T","t":4.722,"v":455},{"s":"T","t":4.751,"v":475},
{"s":"T","t":4.78,"v":240},{"s":"T","t":4.8,"v":345},{"s":"T","t":4.84,"v":378},{"s":"T","t":4.88,"v":372},{"s":"T","t":4.92,"v":415},{"s":"T","t":4.96,"v":425},{"s":"T","t":4.995,"v":455},{"s":"T","t":5.024,"v":475},
{"s":"P","t":0,"v":50},{"s":"P","t":0.005,"v":1500},{"s":"P","t":0.01,"v":2650},{"s":"P","t":0.015,"v":1200},{"s":"P","t":0.02,"v":2700},{"s":"P","t":0.025,"v":1250},{"s":"P","t":0.03,"v":2730},{"s":"P","t":0.035,"v":1150},{"s":"P","t":0.04,"v":2500},{"s":"P","t":0.045,"v":1300},{"s":"P","t":0.05,"v":2250},{"s":"P","t":0.055,"v":1400},{"s":"P","t":0.06,"v":2200},{"s":"P","t":0.065,"v":1200},{"s":"P","t":0.07,"v":1800},{"s":"P","t":0.075,"v":1300},{"s":"P","t":0.08,"v":1750},{"s":"P","t":0.085,"v":1200},{"s":"P","t":0.09,"v":1700},{"s":"P","t":0.095,"v":1000},{"s":"P","t":0.105,"v":900},{"s":"P","t":0.115,"v":250},{"s":"P","t":0.16,"v":235},{"s":"P","t":0.22,"v":250},{"s":"P","t":0.27,"v":255},{"s":"P","t":0.33,"v":270},{"s":"P","t":0.394,"v":285},
{"s":"P","t":0.404,"v":150},{"s":"P","t":0.419,"v":215},{"s":"P","t":0.454,"v":235},{"s":"P","t":0.504,"v":250},{"s":"P","t":0.544,"v":245},{"s":"P","t":0.572,"v":260},
{"s":"P","t":0.577,"v":990},{"s":"P","t":0.582,"v":300},{"s":"P","t":0.587,"v":700},{"s":"P","t":0.591,"v":0},{"s":"P","t":0.596,"v":500},{"s":"P","t":0.601,"v":200},{"s":"P","t":0.606,"v":900},{"s":"P","t":0.611,"v":300},{"s":"P","t":0.616,"v":1110},{"s":"P","t":0.621,"v":400},{"s":"P","t":0.626,"v":1000},{"s":"P","t":0.631,"v":150},{"s":"P","t":0.636,"v":1150},{"s":"P","t":0.641,"v":600},{"s":"P","t":0.646,"v":900},{"s":"P","t":0.651,"v":50},{"s":"P","t":0.656,"v":850},{"s":"P","t":0.661,"v":500},{"s":"P","t":0.666,"v":1000},{"s":"P","t":0.671,"v":300},{"s":"P","t":0.676,"v":950},{"s":"P","t":0.681,"v":100},{"s":"P","t":0.686,"v":800},{"s":"P","t":0.691,"v":0},{"s":"P","t":0.696,"v":1230},{"s":"P","t":0.701,"v":400},{"s":"P","t":0.706,"v":1000},{"s":"P","t":0.711,"v":200},{"s":"P","t":0.716,"v":950},{"s":"P","t":0.721,"v":150},{"s":"P","t":0.728,"v":600},{"s":"P","t":0.735,"v":200},{"s":"P","t":0.742,"v":300},{"s":"P","t":0.75,"v":150},{"s":"P","t":0.758,"v":250},{"s":"P","t":0.766,"v":900},{"s":"P","t":0.772,"v":200},{"s":"P","t":0.778,"v":1000},{"s":"P","t":0.784,"v":100},{"s":"P","t":0.79,"v":700},{"s":"P","t":0.796,"v":300},{"s":"P","t":0.802,"v":1100},{"s":"P","t":0.808,"v":0},{"s":"P","t":0.814,"v":1280},{"s":"P","t":0.82,"v":200},{"s":"P","t":0.826,"v":900},{"s":"P","t":0.832,"v":0},{"s":"P","t":0.838,"v":600},{"s":"P","t":0.844,"v":800},{"s":"P","t":0.85,"v":400},{"s":"P","t":0.856,"v":700},{"s":"P","t":0.862,"v":550},{"s":"P","t":0.868,"v":650},{"s":"P","t":0.874,"v":300},{"s":"P","t":0.88,"v":500},{"s":"P","t":0.886,"v":200},{"s":"P","t":0.892,"v":1000},{"s":"P","t":0.898,"v":1330},{"s":"P","t":0.903,"v":300},{"s":"P","t":0.91,"v":240},{"s":"P","t":0.941,"v":285},
{"s":"P","t":0.951,"v":150},{"s":"P","t":0.966,"v":215},{"s":"P","t":1.001,"v":235},{"s":"P","t":1.051,"v":250},{"s":"P","t":1.091,"v":245},{"s":"P","t":1.141,"v":268},{"s":"P","t":1.215,"v":285},
{"s":"P","t":1.225,"v":150},{"s":"P","t":1.24,"v":215},{"s":"P","t":1.275,"v":235},{"s":"P","t":1.325,"v":250},{"s":"P","t":1.365,"v":245},{"s":"P","t":1.415,"v":268},{"s":"P","t":1.488,"v":285},
{"s":"P","t":1.498,"v":150},{"s":"P","t":1.513,"v":215},{"s":"P","t":1.548,"v":235},{"s":"P","t":1.598,"v":250},{"s":"P","t":1.638,"v":245},{"s":"P","t":1.688,"v":268},{"s":"P","t":1.762,"v":285},
{"s":"P","t":1.772,"v":150},{"s":"P","t":1.787,"v":215},{"s":"P","t":1.822,"v":235},{"s":"P","t":1.872,"v":250},{"s":"P","t":1.912,"v":245},{"s":"P","t":1.962,"v":268},{"s":"P","t":2.035,"v":285},
{"s":"P","t":2.045,"v":150},{"s":"P","t":2.06,"v":215},{"s":"P","t":2.095,"v":235},{"s":"P","t":2.145,"v":250},{"s":"P","t":2.185,"v":245},{"s":"P","t":2.235,"v":268},{"s":"P","t":2.309,"v":285},
{"s":"P","t":2.319,"v":150},{"s":"P","t":2.334,"v":215},{"s":"P","t":2.369,"v":235},{"s":"P","t":2.419,"v":250},{"s":"P","t":2.459,"v":245},{"s":"P","t":2.509,"v":268},{"s":"P","t":2.582,"v":285},
{"s":"P","t":2.592,"v":150},{"s":"P","t":2.607,"v":215},{"s":"P","t":2.642,"v":235},{"s":"P","t":2.692,"v":250},{"s":"P","t":2.732,"v":245},{"s":"P","t":2.782,"v":268},{"s":"P","t":2.856,"v":285},
{"s":"P","t":2.866,"v":150},{"s":"P","t":2.881,"v":215},{"s":"P","t":2.916,"v":235},{"s":"P","t":2.966,"v":250},{"s":"P","t":3.006,"v":245},{"s":"P","t":3.056,"v":268},{"s":"P","t":3.129,"v":285},
{"s":"P","t":3.139,"v":150},{"s":"P","t":3.154,"v":215},{"s":"P","t":3.189,"v":235},{"s":"P","t":3.239,"v":250},{"s":"P","t":3.279,"v":245},{"s":"P","t":3.329,"v":268},{"s":"P","t":3.403,"v":285},
{"s":"P","t":3.413,"v":150},{"s":"P","t":3.428,"v":215},{"s":"P","t":3.463,"v":235},{"s":"P","t":3.513,"v":250},{"s":"P","t":3.553,"v":245},{"s":"P","t":3.603,"v":268},{"s":"P","t":3.676,"v":285},
{"s":"P","t":3.686,"v":150},{"s":"P","t":3.701,"v":215},{"s":"P","t":3.736,"v":235},{"s":"P","t":3.786,"v":250},{"s":"P","t":3.826,"v":245},{"s":"P","t":3.876,"v":268},{"s":"P","t":3.95,"v":285},
{"s":"P","t":3.96,"v":150},{"s":"P","t":3.975,"v":215},{"s":"P","t":4.01,"v":235},{"s":"P","t":4.06,"v":250},{"s":"P","t":4.1,"v":245},{"s":"P","t":4.15,"v":268},{"s":"P","t":4.223,"v":285},
{"s":"P","t":4.233,"v":150},{"s":"P","t":4.248,"v":215},{"s":"P","t":4.283,"v":235},{"s":"P","t":4.333,"v":250},{"s":"P","t":4.373,"v":245},{"s":"P","t":4.423,"v":268},{"s":"P","t":4.497,"v":285},
{"s":"P","t":4.507,"v":150},{"s":"P","t":4.522,"v":215},{"s":"P","t":4.557,"v":235},{"s":"P","t":4.607,"v":250},{"s":"P","t":4.647,"v":245},{"s":"P","t":4.697,"v":268},{"s":"P","t":4.77,"v":285},
{"s":"P","t":4.78,"v":150},{"s":"P","t":4.795,"v":215},{"s":"P","t":4.83,"v":235},{"s":"P","t":4.88,"v":250},{"s":"P","t":4.92,"v":245},{"s":"P","t":4.97,"v":268},{"s":"P","t":5.044,"v":285},
{"s":"D","t":0,"v":30},{"s":"D","t":0.03,"v":80},{"s":"D","t":0.06,"v":115},{"s":"D","t":0.09,"v":135},{"s":"D","t":0.13,"v":142},{"s":"D","t":1,"v":141},{"s":"D","t":2,"v":142},{"s":"D","t":3,"v":141},{"s":"D","t":4,"v":142},{"s":"D","t":5,"v":142}
]},
"vconcat":[
{"width":577,"height":291,
"layer":[
{"data":{"name":"a"},"transform":[{"filter":"datum.s=='T'"}],"mark":{"type":"line","clip":true,"strokeWidth":1.3,"color":"#8ee88e"},
"encoding":{"x":{"field":"t","type":"quantitative","scale":{"domain":[0,5],"nice":false,"zero":false},"axis":{"title":null,"labels":false,"grid":false,"tickSize":-4,"tickColor":"#555","values":[0,0.5,1,1.5,2,2.5,3,3.5,4,4.5,5]}},
"y":{"field":"v","type":"quantitative","scale":{"domain":[0,1200],"nice":false},"axis":{"title":"Power in W","grid":false,"values":[0,200,400,600,800,1000,1200]}}}},
{"data":{"name":"a"},"transform":[{"filter":"datum.s=='P'"}],"mark":{"type":"line","clip":true,"strokeWidth":1.3,"color":"#ff8a8a"},
"encoding":{"x":{"field":"t","type":"quantitative","scale":{"domain":[0,5],"nice":false,"zero":false},"axis":{"title":null,"labels":false,"grid":false,"tickSize":-4,"tickColor":"#555","values":[0,0.5,1,1.5,2,2.5,3,3.5,4,4.5,5]}},
"y":{"field":"v","type":"quantitative","scale":{"domain":[0,1200],"nice":false},"axis":{"title":"Power in W","grid":false,"values":[0,200,400,600,800,1000,1200]}}}},
{"data":{"values":[{"lab":"a"}]},"mark":{"type":"rect","fill":"white","fillOpacity":0,"stroke":"#111","strokeWidth":1.5},"encoding":{"x":{"datum":4.645,"type":"quantitative","axis":{"title":null,"labels":false,"grid":false,"tickSize":-4,"tickColor":"#555","values":[0,0.5,1,1.5,2,2.5,3,3.5,4,4.5,5]}},"x2":{"datum":4.931},"y":{"datum":190,"type":"quantitative","axis":{"title":"Power in W","grid":false,"values":[0,200,400,600,800,1000,1200]}},"y2":{"datum":45}}},
{"data":{"values":[{"lab":"a"}]},"mark":{"type":"text","font":"Liberation Sans","fontSize":13,"fontWeight":"bold","color":"#1f3d7a"},"encoding":{"text":{"field":"lab"},"x":{"datum":4.788,"type":"quantitative","axis":{"title":null,"labels":false,"grid":false,"tickSize":-4,"tickColor":"#555","values":[0,0.5,1,1.5,2,2.5,3,3.5,4,4.5,5]}},"y":{"datum":112,"type":"quantitative","axis":{"title":"Power in W","grid":false,"values":[0,200,400,600,800,1000,1200]}}}}
]},
{"width":577,"height":293,
"layer":[
{"data":{"name":"b"},"transform":[{"filter":"datum.s=='T'"}],"mark":{"type":"line","clip":true,"strokeWidth":1,"color":"#00ee00"},
"encoding":{"x":{"field":"t","type":"quantitative","scale":{"domain":[0,5],"nice":false,"zero":false},"axis":{"title":null,"labels":false,"grid":true,"ticks":false,"values":[0,0.5,1,1.5,2,2.5,3,3.5,4,4.5,5]}},
"y":{"field":"v","type":"quantitative","scale":{"domain":[-200,1600],"nice":false},"axis":{"title":"Power in W","grid":true,"values":[-200,0,200,400,600,800,1000,1200,1400,1600]}}}},
{"data":{"name":"b"},"transform":[{"filter":"datum.s=='P'"}],"mark":{"type":"line","clip":true,"strokeWidth":1.4,"color":"#ff0000"},
"encoding":{"x":{"field":"t","type":"quantitative","scale":{"domain":[0,5],"nice":false,"zero":false},"axis":{"title":null,"labels":false,"grid":true,"ticks":false,"values":[0,0.5,1,1.5,2,2.5,3,3.5,4,4.5,5]}},
"y":{"field":"v","type":"quantitative","scale":{"domain":[-200,1600],"nice":false},"axis":{"title":"Power in W","grid":true,"values":[-200,0,200,400,600,800,1000,1200,1400,1600]}}}},
{"data":{"name":"b"},"transform":[{"filter":"datum.s=='D'"}],"mark":{"type":"line","clip":true,"strokeWidth":1.6,"color":"#0000ff"},
"encoding":{"x":{"field":"t","type":"quantitative","scale":{"domain":[0,5],"nice":false,"zero":false},"axis":{"title":null,"labels":false,"grid":true,"ticks":false,"values":[0,0.5,1,1.5,2,2.5,3,3.5,4,4.5,5]}},
"y":{"field":"v","type":"quantitative","scale":{"domain":[-200,1600],"nice":false},"axis":{"title":"Power in W","grid":true,"values":[-200,0,200,400,600,800,1000,1200,1400,1600]}}}},
{"data":{"values":[{"lab":"b"}]},"mark":{"type":"rect","fill":"white","fillOpacity":0,"stroke":"#111","strokeWidth":1.5},"encoding":{"x":{"datum":4.645,"type":"quantitative","axis":{"title":null,"labels":false,"grid":true,"ticks":false,"values":[0,0.5,1,1.5,2,2.5,3,3.5,4,4.5,5]}},"x2":{"datum":4.957},"y":{"datum":67,"type":"quantitative","axis":{"title":"Power in W","grid":true,"values":[-200,0,200,400,600,800,1000,1200,1400,1600]}},"y2":{"datum":-142}}},
{"data":{"values":[{"lab":"b"}]},"mark":{"type":"text","font":"Liberation Sans","fontSize":13,"fontWeight":"bold","color":"#1f3d7a"},"encoding":{"text":{"field":"lab"},"x":{"datum":4.8,"type":"quantitative","axis":{"title":null,"labels":false,"grid":true,"ticks":false,"values":[0,0.5,1,1.5,2,2.5,3,3.5,4,4.5,5]}},"y":{"datum":-37,"type":"quantitative","axis":{"title":"Power in W","grid":true,"values":[-200,0,200,400,600,800,1000,1200,1400,1600]}}}}
]},
{"width":577,"height":292,
"layer":[
{"data":{"name":"c"},"transform":[{"filter":"datum.s=='T'"}],"mark":{"type":"line","clip":true,"strokeWidth":1.2},
"encoding":{"x":{"field":"t","type":"quantitative","scale":{"domain":[0,5],"nice":false,"zero":false},"axis":{"title":"time in s","format":"~g","grid":true,"ticks":false,"labelPadding":8,"titleFont":"Open Sans","titleFontSize":13,"titlePadding":11,"values":[0,0.5,1,1.5,2,2.5,3,3.5,4,4.5,5]}},
"y":{"field":"v","type":"quantitative","scale":{"domain":[-500,3000],"nice":false},"axis":{"title":"Power in W","grid":true,"values":[-500,0,500,1000,1500,2000,2500,3000]}},
"color":{"field":"s","type":"nominal","scale":{"domain":["T","P","D"],"range":["#00e000","#ff0000","#4444ff"]},"legend":{"orient":"none","legendX":404,"legendY":4,"title":null,"symbolType":"M-1,0H11","symbolSize":100,"symbolStrokeWidth":1.5,"labelFont":"Liberation Sans","labelFontSize":12,"labelColor":"#111","labelOffset":54,"padding":8,"rowPadding":6,"strokeColor":"#333","fillColor":"white","labelExpr":"datum.label=='T' ? \"Turbine's power\" : datum.label=='P' ? \"PMSG's power\" : 'DC bus power'"}}}},
{"data":{"name":"c"},"transform":[{"filter":"datum.s=='P'"}],"mark":{"type":"line","clip":true,"strokeWidth":1.5},
"encoding":{"x":{"field":"t","type":"quantitative","scale":{"domain":[0,5],"nice":false,"zero":false},"axis":{"title":"time in s","format":"~g","grid":true,"ticks":false,"labelPadding":8,"titleFont":"Open Sans","titleFontSize":13,"titlePadding":11,"values":[0,0.5,1,1.5,2,2.5,3,3.5,4,4.5,5]}},
"y":{"field":"v","type":"quantitative","scale":{"domain":[-500,3000],"nice":false},"axis":{"title":"Power in W","grid":true,"values":[-500,0,500,1000,1500,2000,2500,3000]}},"color":{"field":"s","type":"nominal"}}},
{"data":{"name":"c"},"transform":[{"filter":"datum.s=='D'"}],"mark":{"type":"line","clip":true,"strokeWidth":2},
"encoding":{"x":{"field":"t","type":"quantitative","scale":{"domain":[0,5],"nice":false,"zero":false},"axis":{"title":"time in s","format":"~g","grid":true,"ticks":false,"labelPadding":8,"titleFont":"Open Sans","titleFontSize":13,"titlePadding":11,"values":[0,0.5,1,1.5,2,2.5,3,3.5,4,4.5,5]}},
"y":{"field":"v","type":"quantitative","scale":{"domain":[-500,3000],"nice":false},"axis":{"title":"Power in W","grid":true,"values":[-500,0,500,1000,1500,2000,2500,3000]}},"color":{"field":"s","type":"nominal"}}},
{"data":{"values":[{"lab":"c"}]},"mark":{"type":"rect","fill":"white","fillOpacity":0,"stroke":"#111","strokeWidth":1.5},"encoding":{"x":{"datum":4.671,"type":"quantitative","axis":{"title":"time in s","format":"~g","grid":true,"ticks":false,"labelPadding":8,"titleFont":"Open Sans","titleFontSize":13,"titlePadding":11,"values":[0,0.5,1,1.5,2,2.5,3,3.5,4,4.5,5]}},"x2":{"datum":4.957},"y":{"datum":-20,"type":"quantitative","axis":{"title":"Power in W","grid":true,"values":[-500,0,500,1000,1500,2000,2500,3000]}},"y2":{"datum":-440}}},
{"data":{"values":[{"lab":"c"}]},"mark":{"type":"text","font":"Liberation Sans","fontSize":13,"fontWeight":"bold","color":"#1f3d7a"},"encoding":{"text":{"field":"lab"},"x":{"datum":4.81,"type":"quantitative","axis":{"title":"time in s","format":"~g","grid":true,"ticks":false,"labelPadding":8,"titleFont":"Open Sans","titleFontSize":13,"titlePadding":11,"values":[0,0.5,1,1.5,2,2.5,3,3.5,4,4.5,5]}},"y":{"datum":-248,"type":"quantitative","axis":{"title":"Power in W","grid":true,"values":[-500,0,500,1000,1500,2000,2500,3000]}}}}
]}
]}
